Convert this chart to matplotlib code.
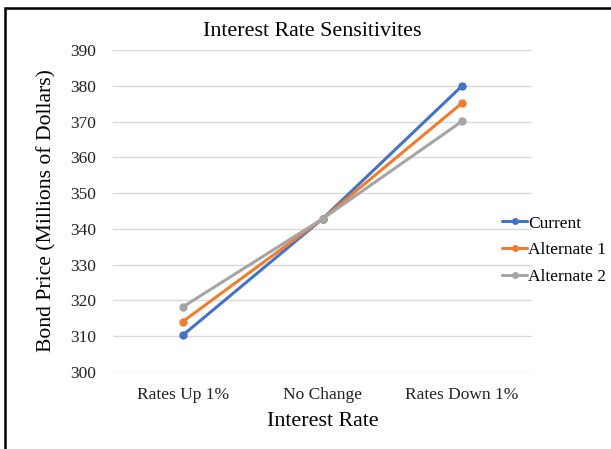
import matplotlib.pyplot as plt
from matplotlib.patches import Rectangle

categories = ["Rates Up 1%", "No Change", "Rates Down 1%"]
current = [310.3, 342.8, 380.0]
alternate_1 = [314.1, 342.8, 375.2]
alternate_2 = [318.2, 342.8, 370.1]
series_names = ["Current", "Alternate 1", "Alternate 2"]
colors = ["#4472C4", "#ED7D31", "#A5A5A5"]
y_ticks = list(range(300, 391, 10))

plt.rcParams["font.family"] = ["Liberation Serif", "DejaVu Serif"]

W, H = 611, 449
fig = plt.figure(figsize=(W / 100, H / 100), dpi=100)
fig.patch.set_facecolor("white")

# plot area in pixel coordinates
left, right, top, bottom = 113, 532, 50, 372
ax = fig.add_axes([left / W, 1 - bottom / H, (right - left) / W, (bottom - top) / H])

x = range(len(categories))
for vals, name, c in zip([current, alternate_1, alternate_2], series_names, colors):
    ax.plot(x, vals, color=c, lw=2.2, marker="o", ms=5, label=name, solid_capstyle="round")

ax.set_xlim(-0.5, len(categories) - 0.5)
ax.set_ylim(300, 390)
ax.set_yticks(y_ticks)
ax.set_xticks(list(x))
ax.set_xticklabels(categories)
ax.tick_params(axis="both", length=0, labelsize=12.5, colors="#222222")
ax.tick_params(axis="y", pad=12)
ax.tick_params(axis="x", pad=11)
ax.grid(axis="y", color="#D9D9D9", lw=1)
ax.set_axisbelow(True)
for s in ax.spines.values():
    s.set_visible(False)

ax.set_xlabel("Interest Rate", fontsize=15.8, labelpad=6)
ax.set_ylabel("Bond Price (Millions of Dollars)", fontsize=15.6, labelpad=10)
fig.text(312 / W, 1 - 31 / H, "Interest Rate Sensitivites", fontsize=15.8,
         ha="center", va="center")

leg = fig.legend(loc="center left", bbox_to_anchor=(502 / W, 1 - 250 / H),
                 frameon=False, fontsize=12.5, handlelength=1.45, handletextpad=0.05,
                 labelspacing=0.6, borderaxespad=0, borderpad=0)
for h in leg.legend_handles:
    h.set_markersize(4)

# chart frame
fig.patches.append(Rectangle((5 / W, -0.1), 1.2, 1 - 8 / H + 0.1,
                             transform=fig.transFigure, fill=False,
                             edgecolor="black", lw=1.8))

fig.savefig("out.png", dpi=100)
